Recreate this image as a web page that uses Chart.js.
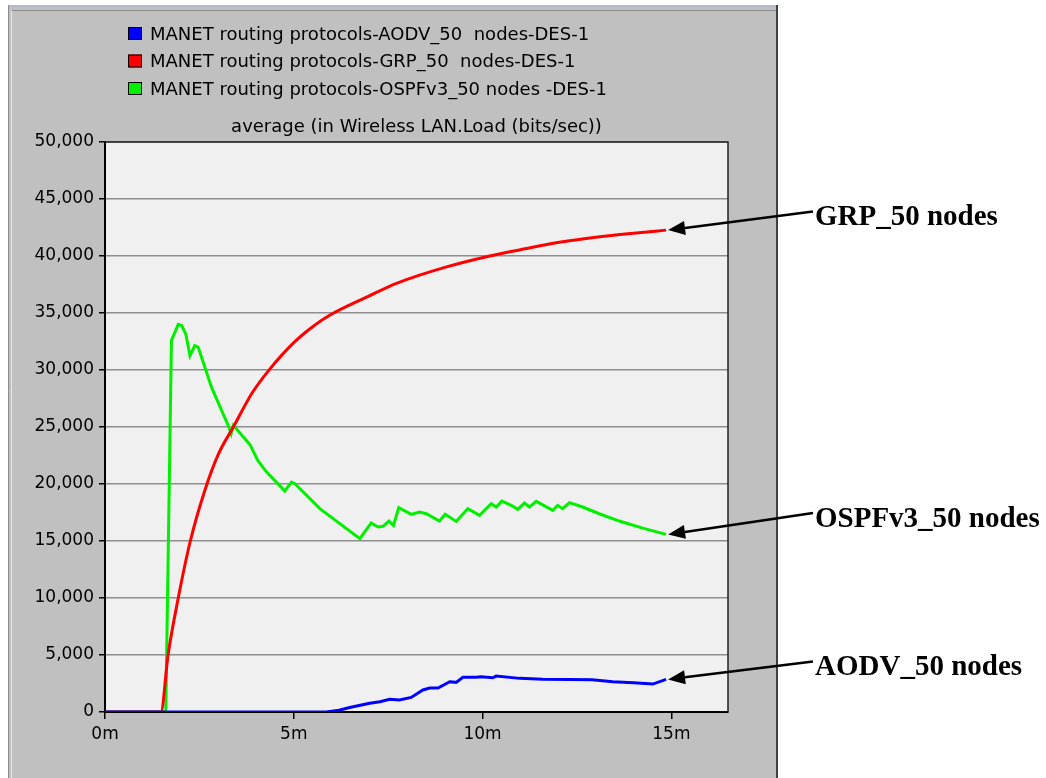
<!DOCTYPE html>
<html>
<head>
<meta charset="utf-8">
<title>Wireless LAN Load - MANET routing protocols</title>
<script src="https://cdn.jsdelivr.net/npm/chart.js@4.4.0/dist/chart.umd.min.js"></script>
<style>
  html, body { margin: 0; padding: 0; background: #fff; }
  #wrap { width: 1046px; height: 778px; }
</style>
</head>
<body>
<div id="wrap"><canvas id="loadChart" width="1046" height="778"></canvas></div>
<script>
// simulation time in minutes, average Wireless LAN load in bits/sec
const aodvTime = [0, 5.86, 6.2, 6.48, 7.01, 7.28, 7.54, 7.8, 8.11, 8.42, 8.6, 8.82, 9.13, 9.3, 9.48, 9.83, 9.96, 10.27, 10.36, 10.98, 11.6, 12.3, 12.9, 13.45, 14.0, 14.51, 14.86];
const aodvLoad = [0, 0, 150, 400, 760, 900, 1110, 1050, 1280, 1930, 2100, 2100, 2660, 2600, 3040, 3040, 3100, 3000, 3150, 2950, 2880, 2860, 2820, 2660, 2560, 2450, 2860];

const grpTime = [0, 1.48, 1.67, 1.94, 2.26, 2.65, 3.0, 3.4, 3.9, 4.37, 5.0, 5.5, 5.95, 7.0, 7.72, 9.0, 10.19, 11.0, 12.12, 13.0, 14.0, 14.86];
const grpLoad = [0, 0, 5000, 10000, 15000, 19500, 22600, 25000, 28000, 30100, 32400, 33800, 34800, 36500, 37600, 39000, 40000, 40550, 41250, 41650, 42000, 42270];

const ospfTime = [0, 1.61, 1.76, 1.94, 2.03, 2.14, 2.25, 2.38, 2.47, 2.82, 3.28, 3.34, 3.4, 3.84, 4.05, 4.28, 4.76, 4.94, 5.03, 5.69, 6.75, 7.05, 7.23, 7.36, 7.52, 7.64, 7.78, 8.11, 8.33, 8.51, 8.86, 9.01, 9.3, 9.61, 9.92, 10.23, 10.36, 10.51, 10.76, 10.93, 11.11, 11.24, 11.42, 11.86, 11.99, 12.12, 12.3, 12.65, 13.09, 13.62, 14.24, 14.86];
const ospfLoad = [0, 0, 32600, 34000, 33900, 33150, 31250, 32150, 32000, 28500, 25000, 24400, 25150, 23450, 22050, 21040, 19400, 20170, 20030, 17840, 15210, 16580, 16230, 16290, 16750, 16370, 17920, 17340, 17540, 17390, 16750, 17340, 16720, 17840, 17250, 18270, 17980, 18500, 18130, 17780, 18330, 17980, 18480, 17690, 18130, 17840, 18370, 17980, 17390, 16750, 16130, 15580];

const seriesNames = [
  'MANET routing protocols-AODV_50  nodes-DES-1',
  'MANET routing protocols-GRP_50  nodes-DES-1',
  'MANET routing protocols-OSPFv3_50 nodes -DES-1'
];
const arrowLabels = ['AODV_50 nodes', 'GRP_50 nodes', 'OSPFv3_50 nodes'];
const xTicks = [0, 5, 10, 15];
const yTicks = [0, 5000, 10000, 15000, 20000, 25000, 30000, 35000, 40000, 45000, 50000];
const xMax = 16.5;
const plotTitle = 'average (in Wireless LAN.Load (bits/sec))';

const colors = ['#0000ff', '#ff0000', '#00f000'];

function toPoints(times, values) {
  return times.map((t, i) => ({ x: t, y: values[i] }));
}

const uiFont = '"DejaVu Sans", sans-serif';

// grey window panel + plot background
const panelPlugin = {
  id: 'panel',
  beforeDraw(chart) {
    const ctx = chart.ctx;
    const a = chart.chartArea;
    ctx.save();
    ctx.fillStyle = '#ffffff';
    ctx.fillRect(0, 0, chart.width, chart.height);
    ctx.fillStyle = '#c0c0c0';
    ctx.fillRect(8, 5, 770, chart.height - 5);
    ctx.strokeStyle = '#b4bccb';
    ctx.lineWidth = 2;
    ctx.beginPath();
    ctx.moveTo(8, 6); ctx.lineTo(778, 6);
    ctx.stroke();
    ctx.strokeStyle = '#8c8c8c';
    ctx.lineWidth = 1;
    ctx.beginPath();
    ctx.moveTo(12, 10.5); ctx.lineTo(778, 10.5);
    ctx.moveTo(8.5, 5); ctx.lineTo(8.5, chart.height);
    ctx.stroke();
    ctx.strokeStyle = '#e8e8e8';
    ctx.beginPath();
    ctx.moveTo(11.5, 11); ctx.lineTo(11.5, chart.height);
    ctx.stroke();
    ctx.strokeStyle = '#404040';
    ctx.lineWidth = 2;
    ctx.beginPath();
    ctx.moveTo(777, 5); ctx.lineTo(777, chart.height);
    ctx.stroke();
    ctx.fillStyle = '#f0f0f0';
    ctx.fillRect(a.left, a.top, a.right - a.left, a.bottom - a.top);
    ctx.restore();
  },
  beforeDatasetsDraw(chart) {
    const ctx = chart.ctx;
    const a = chart.chartArea;
    ctx.save();
    ctx.strokeStyle = '#202020';
    ctx.lineWidth = 1.5;
    ctx.beginPath();
    ctx.moveTo(a.left, a.top);
    ctx.lineTo(a.right, a.top);
    ctx.lineTo(a.right, a.bottom);
    ctx.stroke();
    ctx.restore();
  }
};

// legend rows and the plot heading, drawn like the simulator window
const headerPlugin = {
  id: 'header',
  afterDraw(chart) {
    const ctx = chart.ctx;
    const a = chart.chartArea;
    ctx.save();
    ctx.font = '18px ' + uiFont;
    ctx.textBaseline = 'alphabetic';
    ctx.textAlign = 'left';
    seriesNames.forEach((name, i) => {
      const y = 27 + i * 27.5;
      ctx.fillStyle = colors[i];
      ctx.fillRect(128.5, y, 13, 13);
      ctx.strokeStyle = '#000';
      ctx.lineWidth = 1;
      ctx.strokeRect(128.5, y + 0.5, 13, 12);
      ctx.fillStyle = '#000';
      ctx.fillText(name, 150, y + 12.5);
    });
    ctx.textAlign = 'center';
    ctx.fillText(plotTitle, (a.left + a.right) / 2, 132);
    ctx.restore();
  }
};

// callout arrows from the labels to the last point of each series
const calloutPlugin = {
  id: 'callouts',
  afterDraw(chart) {
    const ctx = chart.ctx;
    const tails = [661.5, 211.5, 513];
    const baselines = [675, 225, 527];
    ctx.save();
    arrowLabels.forEach((label, i) => {
      const pts = chart.getDatasetMeta(i).data;
      const end = pts[pts.length - 1];
      const tipX = end.x + 2, tipY = end.y;
      const tailX = 813, tailY = tails[i];
      const ang = Math.atan2(tailY - tipY, tailX - tipX);
      const headLen = 17, headW = 7;
      const bx = tipX + Math.cos(ang) * headLen;
      const by = tipY + Math.sin(ang) * headLen;
      ctx.strokeStyle = '#000';
      ctx.lineWidth = 2.5;
      ctx.beginPath();
      ctx.moveTo(tailX, tailY);
      ctx.lineTo(bx, by);
      ctx.stroke();
      ctx.fillStyle = '#000';
      ctx.beginPath();
      ctx.moveTo(tipX, tipY);
      ctx.lineTo(bx - Math.sin(ang) * headW, by + Math.cos(ang) * headW);
      ctx.lineTo(bx + Math.sin(ang) * headW, by - Math.cos(ang) * headW);
      ctx.closePath();
      ctx.fill();
      ctx.font = 'bold 29px "Liberation Serif", "Times New Roman", serif';
      ctx.textAlign = 'left';
      ctx.textBaseline = 'alphabetic';
      ctx.fillText(label, 815, baselines[i]);
    });
    ctx.restore();
  }
};

const ctx = document.getElementById('loadChart').getContext('2d');

new Chart(ctx, {
  type: 'line',
  data: {
    datasets: [
      { label: seriesNames[0], data: toPoints(aodvTime, aodvLoad), borderColor: colors[0] },
      { label: seriesNames[1], data: toPoints(grpTime, grpLoad), borderColor: colors[1], cubicInterpolationMode: 'monotone' },
      { label: seriesNames[2], data: toPoints(ospfTime, ospfLoad), borderColor: colors[2] }
    ]
  },
  options: {
    responsive: false,
    animation: false,
    events: [],
    elements: {
      line: { borderWidth: 3, tension: 0, fill: false },
      point: { radius: 0 }
    },
    layout: { padding: { left: 8, top: 142, right: 318, bottom: 0 } },
    scales: {
      x: {
        type: 'linear',
        min: 0,
        max: xMax,
        afterFit(scale) { scale.height = 66; },
        afterBuildTicks(scale) { scale.ticks = xTicks.map(v => ({ value: v })); },
        grid: { drawOnChartArea: false, drawTicks: true, tickLength: 7, tickColor: '#000', lineWidth: 1.5 },
        border: { display: true, color: '#000', width: 2 },
        ticks: {
          color: '#000',
          padding: 5,
          maxRotation: 0,
          font: { family: uiFont, size: 17 },
          callback: v => v + 'm'
        }
      },
      y: {
        min: 0,
        max: 50000,
        afterFit(scale) { scale.width = 97; },
        afterBuildTicks(scale) { scale.ticks = yTicks.map(v => ({ value: v })); },
        grid: { color: '#8e8e8e', lineWidth: 1.5, tickLength: 6, tickColor: '#000' },
        border: { display: true, color: '#000', width: 2 },
        ticks: {
          color: '#000',
          padding: 5,
          font: { family: uiFont, size: 17 },
          callback: v => v.toLocaleString('en-US')
        }
      }
    },
    plugins: {
      legend: { display: false },
      title: { display: false },
      tooltip: { enabled: false }
    }
  },
  plugins: [panelPlugin, headerPlugin, calloutPlugin]
});
</script>
</body>
</html>
